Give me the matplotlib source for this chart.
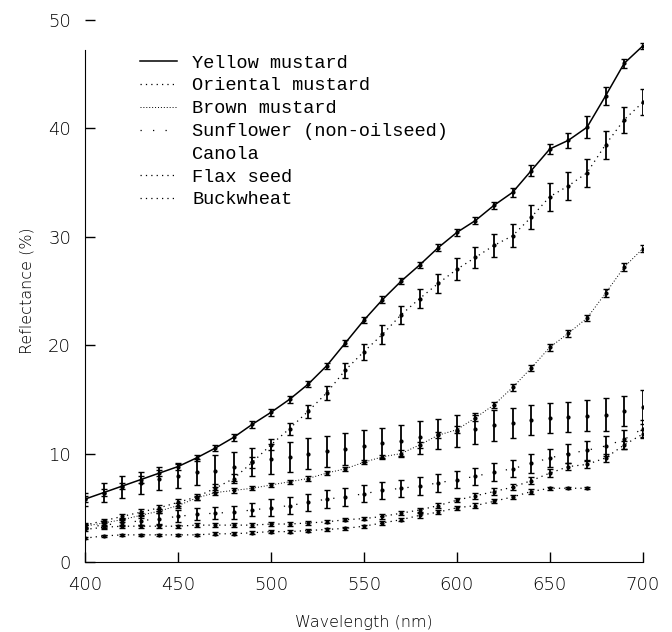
import matplotlib as mpl
mpl.use('Agg')
import matplotlib.pyplot as plt
from matplotlib.lines import Line2D

wavelength = list(range(400, 710, 10))

yellow = [5.8, 6.4, 7.0, 7.6, 8.2, 8.8, 9.6, 10.5, 11.5, 12.7, 13.8, 15.0, 16.4, 18.1, 20.2,
          22.3, 24.2, 25.9, 27.4, 29.0, 30.4, 31.5, 32.9, 34.1, 36.1, 38.1, 38.9, 40.1, 43.0,
          46.0, 47.6]
yellow_err = [0.3, 0.3, 0.3, 0.3, 0.3, 0.3, 0.3, 0.3, 0.3, 0.3, 0.3, 0.3, 0.3, 0.3, 0.3,
              0.3, 0.3, 0.3, 0.3, 0.3, 0.3, 0.3, 0.3, 0.4, 0.5, 0.5, 0.7, 1.0, 0.8, 0.4, 0.3]

oriental = [3.4, 3.8, 4.2, 4.6, 5.0, 5.5, 6.0, 6.8, 7.7, 9.2, 10.8, 12.3, 13.9, 15.6, 17.7,
            19.4, 21.0, 22.8, 24.3, 25.7, 27.0, 28.1, 29.2, 30.1, 31.8, 33.7, 34.7, 35.9, 38.5,
            40.8, 42.4]
oriental_err = [0.2, 0.2, 0.25, 0.25, 0.3, 0.3, 0.3, 0.35, 0.4, 0.5, 0.5, 0.55, 0.6, 0.65, 0.7,
                0.75, 0.85, 0.85, 0.9, 0.9, 1.0, 1.0, 1.05, 1.05, 1.1, 1.3, 1.3, 1.3, 1.3,
                1.2, 1.2]

brown = [3.3, 3.6, 3.9, 4.3, 4.7, 5.2, 5.9, 6.4, 6.6, 6.8, 7.1, 7.4, 7.7, 8.2, 8.6,
         9.2, 9.7, 10.0, 10.8, 11.7, 12.2, 13.3, 14.5, 16.1, 17.9, 19.8, 21.1, 22.5, 24.8,
         27.2, 28.9]
brown_err = [0.2, 0.2, 0.2, 0.2, 0.2, 0.2, 0.2, 0.2, 0.2, 0.2, 0.2, 0.2, 0.2, 0.2, 0.2,
             0.2, 0.2, 0.3, 0.3, 0.3, 0.3, 0.3, 0.3, 0.3, 0.3, 0.3, 0.3, 0.3, 0.35, 0.35, 0.3]

sunflower = [3.2, 3.4, 3.6, 3.8, 4.0, 4.2, 4.4, 4.5, 4.6, 4.8, 5.0, 5.2, 5.5, 5.8, 6.0,
             6.3, 6.6, 6.8, 7.0, 7.3, 7.6, 7.9, 8.3, 8.6, 9.1, 9.6, 10.0, 10.3, 10.7,
             11.3, 12.3]
sunflower_err = [0.2, 0.3, 0.3, 0.4, 0.5, 0.55, 0.55, 0.55, 0.6, 0.6, 0.8, 0.8, 0.8, 0.8, 0.8,
                 0.8, 0.8, 0.8, 0.8, 0.8, 0.8, 0.8, 0.8, 0.8, 0.85, 0.85, 0.85, 0.85, 0.9,
                 0.9, 0.8]

canola = [5.8, 6.4, 6.9, 7.3, 7.7, 7.9, 8.3, 8.4, 8.8, 9.2, 9.5, 9.7, 10.0, 10.2, 10.4,
          10.7, 11.0, 11.2, 11.5, 11.8, 12.1, 12.3, 12.6, 12.8, 13.1, 13.3, 13.4, 13.5, 13.6,
          13.9, 14.3]
canola_err = [0.6, 0.85, 1.0, 1.0, 1.05, 1.1, 1.2, 1.5, 1.3, 1.3, 1.4, 1.4, 1.4, 1.4, 1.5,
              1.45, 1.4, 1.4, 1.5, 1.4, 1.5, 1.4, 1.4, 1.4, 1.4, 1.4, 1.4, 1.4, 1.5, 1.4, 1.6]

flax = [3.0, 3.2, 3.3, 3.3, 3.3, 3.3, 3.4, 3.4, 3.4, 3.4, 3.5, 3.5, 3.6, 3.7, 3.9,
        4.0, 4.2, 4.5, 4.8, 5.2, 5.7, 6.1, 6.5, 6.9, 7.5, 8.2, 8.8, 9.0, 9.6, 10.8, 11.8]
flax_err = [0.15, 0.15, 0.15, 0.15, 0.15, 0.15, 0.15, 0.15, 0.15, 0.15, 0.15, 0.15, 0.15,
            0.15, 0.15, 0.15, 0.2, 0.2, 0.2, 0.2, 0.2, 0.25, 0.3, 0.3, 0.35, 0.35, 0.3, 0.35,
            0.4, 0.4, 0.4]

# buckwheat stops at 670 nm
buckwheat = [2.2, 2.4, 2.5, 2.5, 2.5, 2.5, 2.5, 2.6, 2.6, 2.7, 2.8, 2.8, 2.9, 3.0, 3.1,
             3.3, 3.6, 3.9, 4.3, 4.6, 5.0, 5.2, 5.6, 6.0, 6.5, 6.8, 6.8, 6.8]
buckwheat_err = [0.12, 0.12, 0.12, 0.12, 0.12, 0.12, 0.12, 0.12, 0.12, 0.12, 0.12, 0.12,
                 0.12, 0.12, 0.15, 0.15, 0.15, 0.15, 0.2, 0.2, 0.2, 0.2, 0.2, 0.2, 0.2,
                 0.15, 0.1, 0.1]

series = [
    ('Yellow mustard', yellow, yellow_err, '-', 1.1),
    ('Oriental mustard', oriental, oriental_err, (0, (1, 3.3)), 0.9),
    ('Brown mustard', brown, brown_err, (0, (1, 2.0)), 0.7),
    ('Sunflower (non-oilseed)', sunflower, sunflower_err, (0, (1, 9)), 0.9),
    ('Canola', canola, canola_err, 'None', 0.9),
    ('Flax seed', flax, flax_err, (0, (1, 3.3)), 0.9),
    ('Buckwheat', buckwheat, buckwheat_err, (0, (1, 3.3)), 0.9),
]

fig = plt.figure(figsize=(6.72, 6.32), dpi=100)
ax = fig.add_axes([0.1265, 0.1108, 0.830, 0.8576])

handles = []
for name, vals, err, ls, lw in series:
    x = wavelength[:len(vals)]
    ax.errorbar(x, vals, yerr=err, color='black', linestyle=ls, linewidth=lw,
                marker='o', markersize=2, elinewidth=1.3, capsize=2, capthick=1.0)
    handles.append(Line2D([], [], color='black', linestyle=ls, linewidth=lw, label=name))

ax.set_xlim(400, 700)
ax.set_ylim(0, 50)
ax.set_xticks([400, 450, 500, 550, 600, 650, 700])
ax.set_yticks([0, 10, 20, 30, 40, 50])
ax.spines['top'].set_visible(False)
ax.spines['right'].set_visible(False)
ax.spines['left'].set_bounds(0, 47.2)
ax.tick_params(direction='in', length=7, width=1, pad=10, labelsize=13)
for lab in ax.get_xticklabels() + ax.get_yticklabels():
    lab.set_fontweight('light')

ax.set_xlabel('Wavelength (nm)', fontsize=11.5, fontweight='light', labelpad=15)
ax.set_ylabel('Reflectance (%)', fontsize=11.5, fontweight='light', labelpad=10)

ax.legend(handles=handles, loc='upper left', bbox_to_anchor=(0.0986, 0.936),
          frameon=False, prop={'family': 'Liberation Mono', 'size': 13.4},
          handlelength=2.0, handletextpad=0.8, labelspacing=0.31,
          borderpad=0, borderaxespad=0)

fig.savefig('out.png', dpi=100)
